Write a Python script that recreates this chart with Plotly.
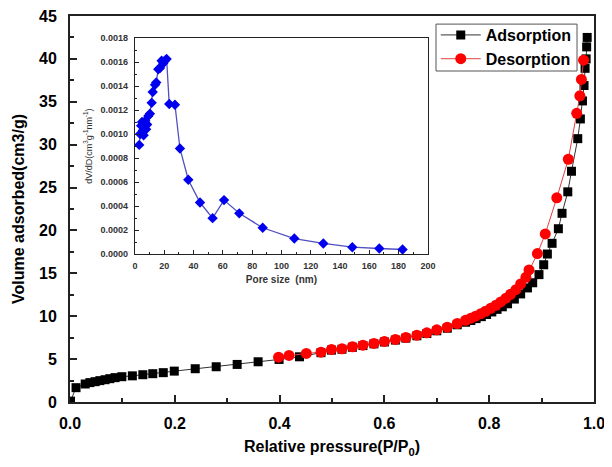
import plotly.graph_objects as go

# Main isotherm data
ads_p = [0.001, 0.0115, 0.029, 0.038, 0.048, 0.057, 0.067, 0.076, 0.086, 0.099,
         0.119, 0.139, 0.158, 0.178, 0.199, 0.239, 0.279, 0.319, 0.359, 0.399,
         0.438, 0.479, 0.499, 0.519, 0.539, 0.559, 0.58, 0.6, 0.621, 0.641,
         0.662, 0.681, 0.7, 0.72, 0.739, 0.755, 0.765, 0.775, 0.785, 0.795,
         0.805, 0.815, 0.825, 0.835, 0.848, 0.86, 0.873, 0.883, 0.895, 0.904,
         0.911, 0.92, 0.932, 0.939, 0.95, 0.957, 0.969, 0.974, 0.978, 0.981,
         0.983, 0.985, 0.986, 0.987]
ads_v = [0.1, 1.67, 2.1, 2.26, 2.37, 2.49, 2.6, 2.72, 2.84, 2.95,
         3.05, 3.18, 3.3, 3.42, 3.6, 3.88, 4.11, 4.38, 4.69, 4.96,
         5.27, 5.75, 6.05, 6.15, 6.38, 6.58, 6.78, 7.0, 7.22, 7.45,
         7.72, 7.98, 8.3, 8.6, 9.0, 9.3, 9.5, 9.72, 9.95, 10.2,
         10.5, 10.8, 11.1, 11.45, 12.0, 12.6, 13.3, 13.9, 14.85, 16.0,
         17.25, 18.5, 20.2, 22.0, 24.5, 26.9, 30.7, 33.0, 35.1, 36.9,
         38.9, 40.0, 41.4, 42.5]

des_p = [0.98, 0.976, 0.973, 0.967, 0.951, 0.929, 0.907, 0.892, 0.876, 0.87,
         0.86, 0.851, 0.841, 0.832, 0.822, 0.813, 0.803, 0.793, 0.784, 0.774,
         0.765, 0.755, 0.739, 0.72, 0.7, 0.681, 0.662, 0.641, 0.621, 0.6,
         0.58, 0.559, 0.539, 0.519, 0.499, 0.479, 0.451, 0.418, 0.398]
des_v = [39.85, 37.6, 35.7, 33.65, 28.3, 23.8, 19.6, 17.3, 15.4, 14.53,
         13.76, 13.1, 12.56, 12.1, 11.67, 11.28, 10.93, 10.58, 10.3, 10.0,
         9.77, 9.53, 9.15, 8.72, 8.42, 8.07, 7.79, 7.52, 7.29, 7.06,
         6.83, 6.63, 6.44, 6.2, 6.13, 5.81, 5.66, 5.43, 5.23]

# Inset pore size distribution
pore_d = [2.9, 3.5, 4.2, 4.8, 5.4, 5.9, 6.5, 7.0, 7.6, 8.3,
          9.1, 10.2, 11.4, 12.1, 13.7, 14.5, 15.9, 17.1, 18.2, 19.3,
          20.4, 21.6, 23.4, 27.3, 30.7, 36.4, 44.4, 53.0, 60.8, 71.2,
          87.2, 108.8, 128.6, 148.4, 166.8, 182.7]
pore_dv = [0.00091, 0.00100, 0.00107, 0.00110, 0.00103, 0.00099, 0.00108, 0.00111, 0.00104, 0.00108,
           0.00115, 0.00117, 0.00126, 0.00135, 0.00141, 0.00143, 0.00154, 0.00155, 0.00161, 0.00159,
           0.00161, 0.001625, 0.00125, 0.001244, 0.00088, 0.00062, 0.00043, 0.00030, 0.00045, 0.00034,
           0.00022, 0.00013, 0.000089, 0.000058, 0.000047, 0.000039]

inset_yticks = [0.0, 0.0002, 0.0004, 0.0006, 0.0008, 0.0010, 0.0012, 0.0014, 0.0016, 0.0018]
inset_ytext = ["0.0000", "0.0002", "0.0004", "0.0006", "0.0008", "0.0010", "0.0012", "0.0014", "0.0016", "0.0018"]

FONT = "Arial, Liberation Sans, sans-serif"

fig = go.Figure()
fig.add_trace(go.Scatter(x=ads_p, y=ads_v, mode="lines+markers", name="Adsorption",
                         line=dict(color="#333333", width=1),
                         marker=dict(symbol="square", size=9, color="black"),
                         xaxis="x", yaxis="y"))
fig.add_trace(go.Scatter(x=des_p, y=des_v, mode="lines+markers", name="Desorption",
                         line=dict(color="#e04040", width=1),
                         marker=dict(symbol="circle", size=11, color="#ff0000"),
                         xaxis="x", yaxis="y"))
fig.add_trace(go.Scatter(x=pore_d, y=pore_dv, mode="lines+markers", showlegend=False,
                         line=dict(color="#5050c0", width=1.3),
                         marker=dict(symbol="diamond", size=8, color="#0000ee"),
                         xaxis="x2", yaxis="y2"))

axis_common = dict(showline=True, mirror=True, linecolor="#222222", showgrid=False,
                   zeroline=False, ticks="inside", tickcolor="#222222", automargin=False,
                   ticklabeloverflow="allow")

fig.update_layout(
    width=604, height=459,
    margin=dict(l=62, r=18, t=8, b=65),
    paper_bgcolor="white", plot_bgcolor="white",
    font=dict(family=FONT, color="black"),
    xaxis=dict(**axis_common, linewidth=2, range=[0, 1.0], dtick=0.2, tick0=0,
               tickformat=".1f", ticklen=7, tickwidth=1.5,
               minor=dict(ticks="inside", dtick=0.1, ticklen=4, tickcolor="#222222"),
               tickfont=dict(size=16, family=FONT, weight="bold"),
               ticklabelstandoff=6,
               title=dict(text="<b>Relative pressure(P/P<sub>0</sub>)</b>", font=dict(size=16), standoff=10),
               domain=[0, 1]),
    yaxis=dict(**axis_common, linewidth=2, range=[0, 45], dtick=5, tick0=0,
               ticklen=7, tickwidth=1.5,
               minor=dict(ticks="inside", dtick=2.5, ticklen=4, tickcolor="#222222"),
               tickfont=dict(size=16, family=FONT, weight="bold"),
               ticklabelstandoff=8,
               title=dict(text="<b>Volume adsorbed(cm3/g)</b>", font=dict(size=16), standoff=10),
               domain=[0, 1]),
    xaxis2=dict(**axis_common, linewidth=1.3, anchor="y2", domain=[0.124, 0.683],
                range=[0, 200], dtick=20, tick0=0, ticklen=4,
                minor=dict(ticks="inside", dtick=10, ticklen=2, tickcolor="#222222"),
                tickfont=dict(size=9, family=FONT, weight="bold", color="#333333"),
                ticklabelstandoff=3,
                title=dict(text="<b>Pore size  (nm)</b>", font=dict(size=10, color="#333333"), standoff=5)),
    yaxis2=dict(**axis_common, linewidth=1.3, anchor="x2", domain=[0.383, 0.943],
                range=[0, 0.0018], tickvals=inset_yticks, ticktext=inset_ytext, ticklen=4,
                minor=dict(ticks="inside", dtick=0.0001, ticklen=2, tickcolor="#222222"),
                tickfont=dict(size=9, family=FONT, weight="bold", color="#333333"),
                ticklabelstandoff=4,
                title=dict(text="dV/dD(cm<sup>3</sup>g<sup>-1</sup>nm<sup>-1</sup>)",
                           font=dict(size=9, color="#333333"), standoff=6)),
    legend=dict(x=0.698, y=0.9948, xanchor="left", yanchor="top",
                borderwidth=0, bgcolor="rgba(0,0,0,0)",
                font=dict(size=16, family=FONT, weight="bold"),
                tracegroupgap=0, itemwidth=40),
    shapes=[dict(type="rect", xref="paper", yref="paper",
                 x0=0.6985, x1=0.9676, y0=0.8575, y1=0.979,
                 line=dict(color="#555555", width=1), fillcolor="rgba(0,0,0,0)",
                 layer="below")],
)

fig.write_html("out.html")
